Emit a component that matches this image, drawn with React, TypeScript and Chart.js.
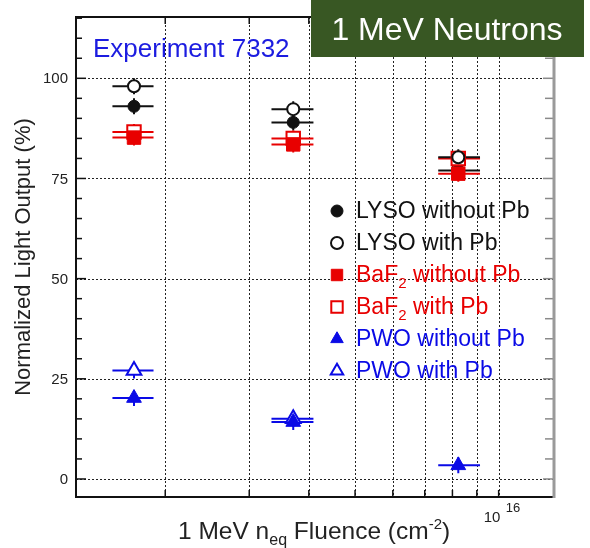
import { useEffect, useRef } from "react";
import { Chart, registerables } from "chart.js";

Chart.register(...registerables);

// Neutron fluence per irradiation step (cm^-2) and its spread
const fluence = [1.72e15, 3.71e15, 8.23e15];
const fluenceLow = [1.55e15, 3.34e15, 7.47e15];
const fluenceHigh = [1.89e15, 4.09e15, 9.14e15];

// Normalized light output (%) per crystal
const lysoWithoutPb = [93, 89, 77];
const lysoWithPb = [98, 92.3, 80.3];
const baf2WithoutPb = [85.2, 83.5, 76.2];
const baf2WithPb = [86.6, 85, 80];
const pwoWithoutPb = [20.2, 14.2, 3.4];
const pwoWithPb = [27.1, 15, null];
const lightOutputError = 2;

// Axis ticks
const yMajorTicks = [0, 25, 50, 75, 100];
const yMinorStep = 5;
const fluenceGrid = [2e15, 3e15, 4e15, 5e15, 6e15, 7e15, 8e15, 9e15, 1e16];

const FONT = "'Liberation Sans', Arial, Helvetica, sans-serif";
const BLACK = "#111111";
const RED = "#e80000";
const BLUE = "#0a0ae6";

type Shape = "circle" | "rect" | "triangle";
interface Series {
  name: string;
  sub?: string;
  rest: string;
  values: (number | null)[];
  color: string;
  shape: Shape;
  filled: boolean;
  order: number; // higher is drawn lower
}

const series: Series[] = [
  { name: "LYSO", rest: " without Pb", values: lysoWithoutPb, color: BLACK, shape: "circle", filled: true, order: 4 },
  { name: "LYSO", rest: " with Pb", values: lysoWithPb, color: BLACK, shape: "circle", filled: false, order: 0 },
  { name: "BaF", sub: "2", rest: " without Pb", values: baf2WithoutPb, color: RED, shape: "rect", filled: true, order: 1 },
  { name: "BaF", sub: "2", rest: " with Pb", values: baf2WithPb, color: RED, shape: "rect", filled: false, order: 2 },
  { name: "PWO", rest: " without Pb", values: pwoWithoutPb, color: BLUE, shape: "triangle", filled: true, order: 0 },
  { name: "PWO", rest: " with Pb", values: pwoWithPb, color: BLUE, shape: "triangle", filled: false, order: 1 },
];

const radiusFor = (shape: Shape) => (shape === "circle" ? 6 : shape === "rect" ? 9.5 : 8.5);

function drawMarker(ctx: CanvasRenderingContext2D, s: Series, x: number, y: number) {
  const r = radiusFor(s.shape) * (s.shape === "circle" ? 1 : 0.85);
  ctx.save();
  ctx.beginPath();
  if (s.shape === "circle") {
    ctx.arc(x, y, r, 0, Math.PI * 2);
  } else if (s.shape === "rect") {
    const h = r * Math.SQRT1_2;
    ctx.rect(x - h, y - h, 2 * h, 2 * h);
  } else {
    const w = r * Math.sin((2 * Math.PI) / 3);
    ctx.moveTo(x, y - r);
    ctx.lineTo(x + w, y + r * 0.5);
    ctx.lineTo(x - w, y + r * 0.5);
    ctx.closePath();
  }
  ctx.fillStyle = s.filled ? s.color : "#ffffff";
  ctx.fill();
  ctx.lineWidth = s.filled ? 1 : 2;
  ctx.strokeStyle = s.color;
  ctx.stroke();
  ctx.restore();
}

interface Part {
  text: string;
  size: number;
  dy?: number;
}

function drawRich(ctx: CanvasRenderingContext2D, parts: Part[], x: number, y: number, color: string) {
  ctx.save();
  ctx.fillStyle = color;
  ctx.textAlign = "left";
  ctx.textBaseline = "alphabetic";
  let cx = x;
  for (const p of parts) {
    ctx.font = `${p.size}px ${FONT}`;
    ctx.fillText(p.text, cx, y + (p.dy || 0));
    cx += ctx.measureText(p.text).width;
  }
  ctx.restore();
}

const framePlugin = {
  id: "frame",
  beforeDatasetsDraw(chart: any) {
    const { ctx, chartArea: a, scales } = chart;
    const xs = scales.x;
    const ys = scales.y;
    ctx.save();

    // dotted grid
    ctx.setLineDash([2, 2]);
    ctx.strokeStyle = "#222222";
    ctx.lineWidth = 1;
    for (const v of fluenceGrid) {
      const px = Math.round(xs.getPixelForValue(v)) + 0.5;
      ctx.beginPath();
      ctx.moveTo(px, a.top);
      ctx.lineTo(px, a.bottom);
      ctx.stroke();
    }
    for (const v of yMajorTicks) {
      const py = Math.round(ys.getPixelForValue(v)) + 0.5;
      ctx.beginPath();
      ctx.moveTo(a.left, py);
      ctx.lineTo(a.right, py);
      ctx.stroke();
    }
    ctx.setLineDash([]);

    // tick marks
    ctx.lineWidth = 1.5;
    for (let v = 0; v <= ys.max; v += yMinorStep) {
      const py = ys.getPixelForValue(v);
      const major = v % 25 === 0;
      ctx.strokeStyle = BLACK;
      ctx.beginPath();
      ctx.moveTo(a.left, py);
      ctx.lineTo(a.left + (major ? 10 : 6), py);
      ctx.stroke();
      ctx.strokeStyle = "#8a8a8a";
      ctx.beginPath();
      ctx.moveTo(a.right, py);
      ctx.lineTo(a.right - (major ? 10 : 8), py);
      ctx.stroke();
    }
    ctx.strokeStyle = BLACK;
    for (const v of fluenceGrid) {
      const px = xs.getPixelForValue(v);
      ctx.beginPath();
      ctx.moveTo(px, a.bottom);
      ctx.lineTo(px, a.bottom - 7);
      ctx.stroke();
      ctx.beginPath();
      ctx.moveTo(px, a.top);
      ctx.lineTo(px, a.top + 7);
      ctx.stroke();
    }

    // frame
    ctx.lineWidth = 2;
    ctx.strokeStyle = BLACK;
    ctx.beginPath();
    ctx.moveTo(a.right, a.top);
    ctx.lineTo(a.left, a.top);
    ctx.lineTo(a.left, a.bottom);
    ctx.lineTo(a.right, a.bottom);
    ctx.stroke();
    ctx.lineWidth = 3;
    ctx.strokeStyle = "#9a9a9a";
    ctx.beginPath();
    ctx.moveTo(a.right + 1, a.top - 1);
    ctx.lineTo(a.right + 1, a.bottom + 1);
    ctx.stroke();

    // error bars, lower layers first
    ctx.lineWidth = 2;
    const layered = [...series].sort((p, q) => q.order - p.order);
    for (const s of layered) {
      ctx.strokeStyle = s.color;
      s.values.forEach((v, k) => {
        if (v === null) return;
        const py = ys.getPixelForValue(v);
        const px = xs.getPixelForValue(fluence[k]);
        ctx.beginPath();
        ctx.moveTo(xs.getPixelForValue(fluenceLow[k]), py);
        ctx.lineTo(xs.getPixelForValue(fluenceHigh[k]), py);
        ctx.moveTo(px, ys.getPixelForValue(v - lightOutputError));
        ctx.lineTo(px, ys.getPixelForValue(v + lightOutputError));
        ctx.stroke();
      });
    }
    ctx.restore();
  },
  afterDraw(chart: any) {
    const { ctx, chartArea: a, scales } = chart;
    const xs = scales.x;
    const ys = scales.y;
    ctx.save();

    // y tick labels
    ctx.font = `15px ${FONT}`;
    ctx.fillStyle = "#222222";
    ctx.textAlign = "right";
    ctx.textBaseline = "middle";
    for (const v of yMajorTicks) {
      ctx.fillText(String(v), a.left - 8, ys.getPixelForValue(v) + 1);
    }

    // y title
    ctx.save();
    ctx.translate(24, (a.top + a.bottom) / 2);
    ctx.rotate(-Math.PI / 2);
    ctx.font = `22px ${FONT}`;
    ctx.textAlign = "center";
    ctx.textBaseline = "middle";
    ctx.fillText("Normalized Light Output (%)", 0, 0);
    ctx.restore();

    // x decade label
    const dx = xs.getPixelForValue(1e16);
    drawRich(ctx, [{ text: "10", size: 15 }], dx - 15, a.bottom + 25, "#222222");
    drawRich(ctx, [{ text: "16", size: 13 }], dx + 7, a.bottom + 15, "#222222");

    // x title
    drawRich(
      ctx,
      [
        { text: "1 MeV n", size: 24.5 },
        { text: "eq", size: 16, dy: 6 },
        { text: " Fluence (cm", size: 24.5 },
        { text: "-2", size: 15, dy: -10 },
        { text: ")", size: 24.5 },
      ],
      178,
      a.bottom + 42,
      "#222222"
    );

    // legend
    const lx = 337;
    const ly0 = 218;
    series.forEach((s, i) => {
      const base = ly0 + i * 32;
      drawMarker(ctx, s, lx, base - 7);
      const parts: Part[] = [{ text: s.name, size: 23 }];
      if (s.sub) parts.push({ text: s.sub, size: 15, dy: 6 });
      parts.push({ text: s.rest, size: 23 });
      drawRich(ctx, parts, 356, base, s.color);
    });

    // experiment tag
    ctx.font = `26px ${FONT}`;
    ctx.fillStyle = "#1c1ce0";
    ctx.textAlign = "left";
    ctx.textBaseline = "alphabetic";
    ctx.fillText("Experiment 7332", 93, 57);

    // title box
    ctx.fillStyle = "#385723";
    ctx.fillRect(311, 0, 273, 57);
    ctx.font = `32px ${FONT}`;
    ctx.fillStyle = "#ffffff";
    ctx.textAlign = "center";
    ctx.fillText("1 MeV Neutrons", 447, 40);
    ctx.restore();
  },
};

export default function App() {
  const canvasRef = useRef<HTMLCanvasElement | null>(null);

  useEffect(() => {
    const canvas = canvasRef.current;
    if (!canvas) return;
    const chart = new Chart(canvas, {
      type: "scatter",
      data: {
        datasets: series.map((s) => ({
          label: s.name + (s.sub || "") + s.rest,
          data: s.values
            .map((v, k) => (v === null ? null : { x: fluence[k], y: v }))
            .filter((p) => p !== null) as { x: number; y: number }[],
          order: s.order,
          pointStyle: s.shape,
          pointRadius: radiusFor(s.shape),
          pointHoverRadius: radiusFor(s.shape),
          backgroundColor: s.filled ? s.color : "#ffffff",
          borderColor: s.color,
          borderWidth: s.filled ? 1 : 2,
          showLine: false,
        })),
      },
      options: {
        animation: false,
        responsive: false,
        events: [],
        layout: { padding: { left: 76, right: 37, top: 17, bottom: 51 } },
        plugins: { legend: { display: false }, tooltip: { enabled: false } },
        scales: {
          x: { type: "logarithmic", min: 1.3e15, max: 1.3e16, display: false },
          y: { type: "linear", min: -4.5, max: 115.3, display: false },
        },
      },
      plugins: [framePlugin],
    });
    return () => chart.destroy();
  }, []);

  return (
    <div style={{ position: "absolute", left: 0, top: 0, width: 590, height: 548, background: "#ffffff" }}>
      <canvas ref={canvasRef} width={590} height={548} style={{ display: "block" }} />
    </div>
  );
}
